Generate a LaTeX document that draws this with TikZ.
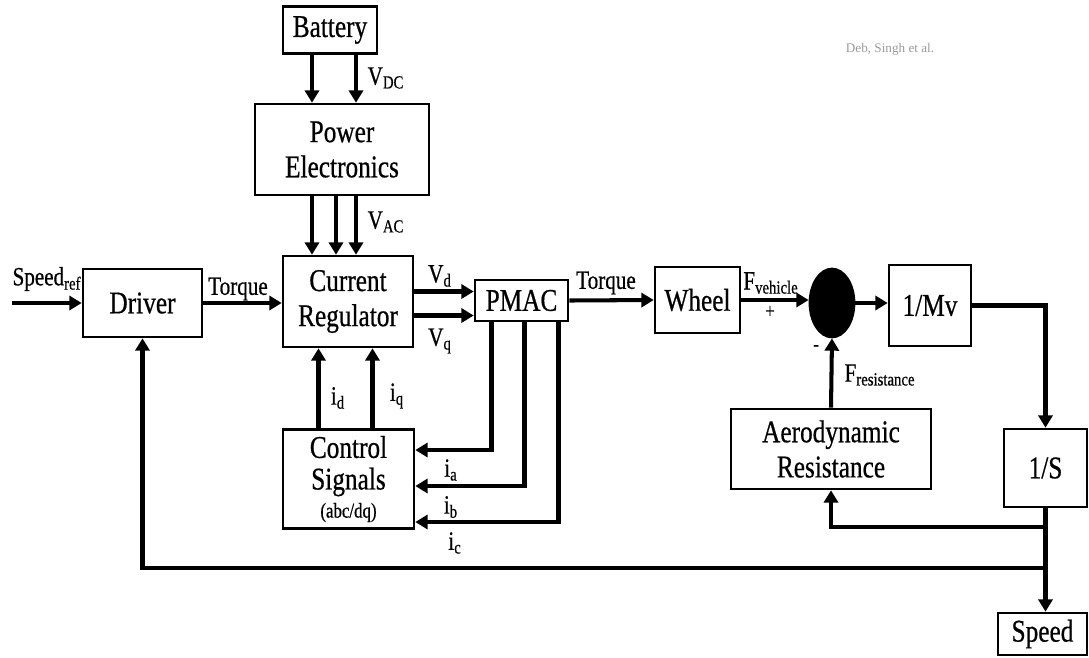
\documentclass[tikz,border=0pt]{standalone}
\usepackage{fontspec}
\setmainfont{Liberation Serif}[FakeStretch=0.8,FakeBold=0.6]
\newfontfamily\markfont{Liberation Serif}
\usetikzlibrary{arrows.meta,positioning,shapes.geometric,calc}

\begin{document}
\begin{tikzpicture}[x=0.02cm, y=-0.02cm,
  box/.style={draw, line width=1.5pt, inner sep=1pt, align=center,
              font=\fontsize{18}{20}\selectfont},
  arr/.style={-{Triangle[length=7pt,width=8pt]}, line width=2.3pt},
  lbl/.style={inner sep=0pt, font=\fontsize{15}{17}\selectfont},
  sgn/.style={inner sep=0pt, font=\fontsize{12}{14}\selectfont}
]
  \useasboundingbox (0,0) rectangle (1089,657);

  % blocks
  \node[box, minimum width=1.88cm, minimum height=0.94cm] (bat)  at (330,30)    {Battery};
  \node[box, minimum width=3.48cm, minimum height=1.82cm] (pe)   at (342,149.5) {Power\\Electronics};
  \node[box, minimum width=2.38cm, minimum height=1.36cm] (drv)  at (142.5,303) {Driver};
  \node[box, minimum width=2.6cm,  minimum height=1.82cm] (cr)   at (348,301.5) {Current\\Regulator};
  \node[box, minimum width=1.86cm, minimum height=0.82cm] (pmac) at (521.5,300.5) {PMAC};
  \node[box, minimum width=2.62cm, minimum height=1.98cm,
        font=\fontsize{18}{18}\selectfont] (cs) at (348.5,479)
        {Control\\Signals\\[-2pt]{\fontsize{12}{13}\selectfont (abc/dq)}};
  \node[box, minimum width=1.7cm,  minimum height=1.32cm] (whl)  at (697.5,300) {Wheel};
  \node[ellipse, draw, fill=black, line width=1pt, minimum width=0.9cm,
        minimum height=1.38cm, inner sep=0pt] (sum) at (832,303) {};
  \node[box, minimum width=1.64cm, minimum height=1.62cm] (mv)   at (930,305.5) {1/Mv};
  \node[box, minimum width=4cm,    minimum height=1.6cm]  (aero) at (831,449)   {Aerodynamic\\Resistance};
  \node[box, minimum width=1.66cm, minimum height=1.56cm] (ints) at (1045.5,468) {1/S};
  \node[box, minimum width=1.78cm, minimum height=0.84cm] (spd)  at (1042.5,634) {Speed};

  % supply side
  \foreach \dx [count=\k] in {-18,26} {
    \coordinate (bo\k) at ($(bat.south)+(\dx,0)$);
    \draw[arr] (bo\k) -- (bo\k |- pe.north);
  }
  \foreach \dx [count=\k] in {-30,-6,14} {
    \coordinate (po\k) at ($(pe.south)+(\dx,0)$);
    \draw[arr] (po\k) -- (po\k |- cr.north);
  }

  % forward path
  \coordinate (spdin) at (12,303);
  \coordinate (vdout) at ($(cr.east)+(0,-10)$);
  \coordinate (vqout) at ($(cr.east)+(0,14)$);
  \draw[arr] (spdin) -- (drv.west);
  \draw[arr] (drv.east) -- (cr.west |- drv.east);
  \draw[arr] (vdout) -- (vdout -| pmac.west);
  \draw[arr] (vqout) -- (vqout -| pmac.west);
  \draw[arr] (pmac.east) -- (whl.west);
  \draw[arr] (whl.east) -- (whl.east -| sum.west);
  \draw[arr] (sum.east) -- (sum.east -| mv.west);
  \draw[arr] (mv.east) -| (ints.north);
  \draw[arr] (ints.south) -- (ints.south |- spd.north);

  % feedback
  \coordinate (tapA) at (ints.south |- 0,527);
  \coordinate (tapB) at (ints.south |- 0,568);
  \draw[arr] (tapA) -| (aero.south);
  \draw[arr] (tapB) -| (drv.south);
  \draw[arr] (aero.north) -- (sum.south);

  % phase currents
  \foreach \dx/\yy [count=\k] in {-30/450, 3/486, 37/522} {
    \coordinate (ph\k) at ($(pmac.south)+(\dx,0)$);
    \draw[arr] (ph\k) |- (cs.east |- 0,\yy);
  }
  \foreach \dx [count=\k] in {-30,24} {
    \coordinate (cso\k) at ($(cs.north)+(\dx,0)$);
    \draw[arr] (cso\k) -- (cso\k |- cr.south);
  }

  % labels
  \node[lbl] (lref)  at (47,279)  {Speed\textsubscript{ref}};
  \node[lbl] (ltq1)  at (238,289) {Torque};
  \node[lbl] (lvdc)  at (386,78)  {V\textsubscript{DC}};
  \node[lbl] (lvac)  at (386,222) {V\textsubscript{AC}};
  \node[lbl] (lvd)   at (440,276) {V\textsubscript{d}};
  \node[lbl] (lvq)   at (440,341) {V\textsubscript{q}};
  \node[lbl] (lid)   at (338,398) {i\textsubscript{d}};
  \node[lbl] (liq)   at (397,396) {i\textsubscript{q}};
  \node[lbl] (lia)   at (451,470) {i\textsubscript{a}};
  \node[lbl] (lib)   at (451,507) {i\textsubscript{b}};
  \node[lbl] (lic)   at (455,543) {i\textsubscript{c}};
  \node[lbl] (ltq2)  at (606,283) {Torque};
  \node[lbl] (lfv)   at (771,283) {F\textsubscript{vehicle}};
  \node[sgn] (lplus) at (770,312) {+};
  \node[sgn] (lmin)  at (816,348) {-};
  \node[lbl] (lfr)   at (880,375) {F\textsubscript{resistance}};
  \node[inner sep=0pt, text=gray!80, font=\markfont\fontsize{7.5}{9}\selectfont]
    (mark) at (890,49) {Deb, Singh et al.};
\end{tikzpicture}
\end{document}
